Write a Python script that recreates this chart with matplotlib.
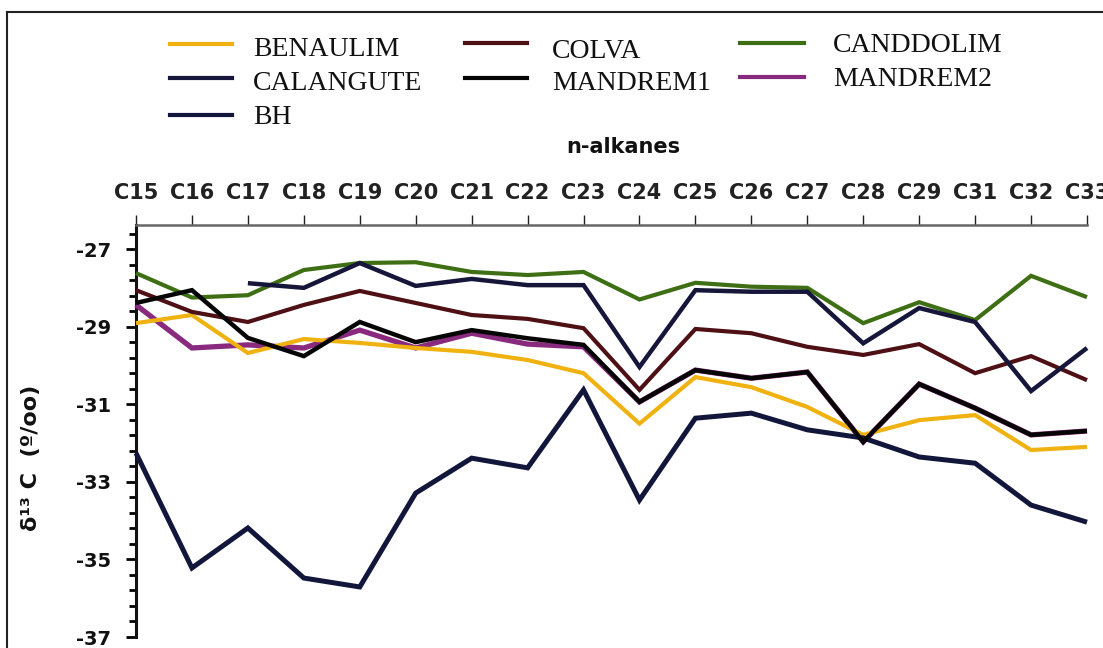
import matplotlib
matplotlib.use("Agg")
import matplotlib.pyplot as plt
import numpy as np
from matplotlib.lines import Line2D
from matplotlib.ticker import FixedLocator

plt.rcParams['axes.unicode_minus'] = False

# ---------------- data ----------------
categories = ["C15", "C16", "C17", "C18", "C19", "C20", "C21", "C22", "C23",
              "C24", "C25", "C26", "C27", "C28", "C29", "C31", "C32", "C33"]

benaulim = [-28.91, -28.70, -29.68, -29.32, -29.42, -29.55, -29.65, -29.86, -30.20,
            -31.50, -30.30, -30.56, -31.07, -31.79, -31.41, -31.28, -32.18, -32.10]
colva = [-28.06, -28.62, -28.88, -28.44, -28.08, -28.39, -28.70, -28.80, -29.04,
         -30.63, -29.06, -29.17, -29.52, -29.73, -29.45, -30.20, -29.76, -30.38]
canddolim = [-27.62, -28.25, -28.19, -27.54, -27.36, -27.34, -27.59, -27.67, -27.59,
             -28.30, -27.87, -27.97, -28.00, -28.91, -28.37, -28.83, -27.69, -28.24]
calangute = [np.nan, np.nan, -27.88, -28.00, -27.36, -27.95, -27.77, -27.93, -27.93,
             -30.04, -28.06, -28.10, -28.10, -29.43, -28.52, -28.88, -30.66, -29.55]
mandrem1 = [-28.39, -28.06, -29.29, -29.76, -28.88, -29.40, -29.09, -29.30, -29.47,
            -30.94, -30.12, -30.33, -30.17, -31.97, -30.48, -31.10, -31.79, -31.69]
mandrem2 = [-28.44, -29.55, -29.47, -29.55, -29.09, -29.55, -29.17, -29.45, -29.52,
            -30.94, -30.12, -30.33, -30.17, -31.97, -30.48, -31.10, -31.79, -31.69]
bh = [-32.26, -35.22, -34.19, -35.48, -35.71, -33.29, -32.39, -32.64, -30.63,
      -33.47, -31.36, -31.23, -31.66, -31.87, -32.36, -32.52, -33.60, -34.04]

y_major = [-27, -29, -31, -33, -35, -37]

# ---------------- styles ----------------
series = [
    ("MANDREM2", mandrem2, "#8a2a7e", 3.8),
    ("BENAULIM", benaulim, "#f0b210", 3.0),
    ("COLVA", colva, "#4e1014", 3.0),
    ("CANDDOLIM", canddolim, "#3f6f14", 3.0),
    ("CALANGUTE", calangute, "#15163a", 3.2),
    ("BH", bh, "#11163a", 3.6),
    ("MANDREM1", mandrem1, "#050505", 3.2),
]
colors = {name: c for name, _, c, _ in series}

W, H = 1103, 648
fig = plt.figure(figsize=(W / 100, H / 100), dpi=100)
fig.patch.set_facecolor("white")

def fx(px):
    return px / W

def fy(py):
    return 1 - py / H

ax_left, ax_right, ax_top, ax_bot = 136, 1087, 225, 637
ax = fig.add_axes([fx(ax_left), fy(ax_bot), fx(ax_right) - fx(ax_left), fy(ax_top) - fy(ax_bot)])

x = np.arange(len(categories))
for name, vals, col, lw in series:
    ax.plot(x, np.array(vals, dtype=float), color=col, lw=lw, solid_joinstyle="miter",
            solid_capstyle="butt", clip_on=False, zorder=3)

ax.set_xlim(0, len(categories) - 1)
ax.set_ylim(-37, -26.38)

ax.xaxis.tick_top()
ax.set_xticks(x)
ax.set_xticklabels(categories, fontsize=15, fontweight="bold", color="#111111")
ax.tick_params(axis="x", which="both", top=True, bottom=False, direction="out",
               length=7, width=1.0, pad=9, colors="#222222")

ax.yaxis.set_major_locator(FixedLocator(y_major))
ax.set_yticklabels([str(v) for v in y_major], fontsize=14, fontweight="bold", color="#111111")
ax.yaxis.set_minor_locator(FixedLocator(np.arange(-37, -26.5, 0.4)))
ax.tick_params(axis="y", which="major", direction="out", length=7, width=2.0, pad=11)
ax.tick_params(axis="y", which="minor", direction="out", length=5, width=2.0)

for s in ("right", "bottom"):
    ax.spines[s].set_visible(False)
ax.spines["left"].set_linewidth(2.2)
ax.spines["left"].set_color("#111111")
ax.spines["top"].set_linewidth(1.8)
ax.spines["top"].set_color("#666666")

# axis titles
fig.text(fx(31), fy(458), "δ¹³ C  (º/oo)", rotation=90, ha="center", va="center",
         fontsize=16, fontweight="bold", color="#111111")
fig.text(fx(623), fy(147), "n-alkanes", ha="center", va="center",
         fontsize=15, fontweight="bold", color="#111111")

# legend (manual)
legend_items = [
    ("BENAULIM", 170, 232, 253, 44, 50),
    ("CALANGUTE", 170, 232, 253, 78, 84),
    ("BH", 170, 232, 253, 115, 118),
    ("COLVA", 465, 527, 552, 43, 51),
    ("MANDREM1", 465, 527, 552, 78, 84),
    ("CANDDOLIM", 740, 804, 833, 43, 46),
    ("MANDREM2", 740, 804, 833, 77, 80),
]
for name, x0, x1, tx, ly, ty in legend_items:
    fig.add_artist(Line2D([fx(x0), fx(x1)], [fy(ly), fy(ly)], color=colors[name],
                          lw=3.0, transform=fig.transFigure))
    fig.text(fx(tx), fy(ty), name, ha="left", va="center", fontsize=20,
             family="Liberation Serif", color="#111111")

# frame lines (top and left)
fig.add_artist(Line2D([fx(7), 1], [fy(12), fy(12)], color="#222222", lw=1.5,
                      transform=fig.transFigure))
fig.add_artist(Line2D([fx(7), fx(7)], [fy(12), 0], color="#222222", lw=1.5,
                      transform=fig.transFigure))

fig.savefig("out.png", dpi=100, facecolor="white")
